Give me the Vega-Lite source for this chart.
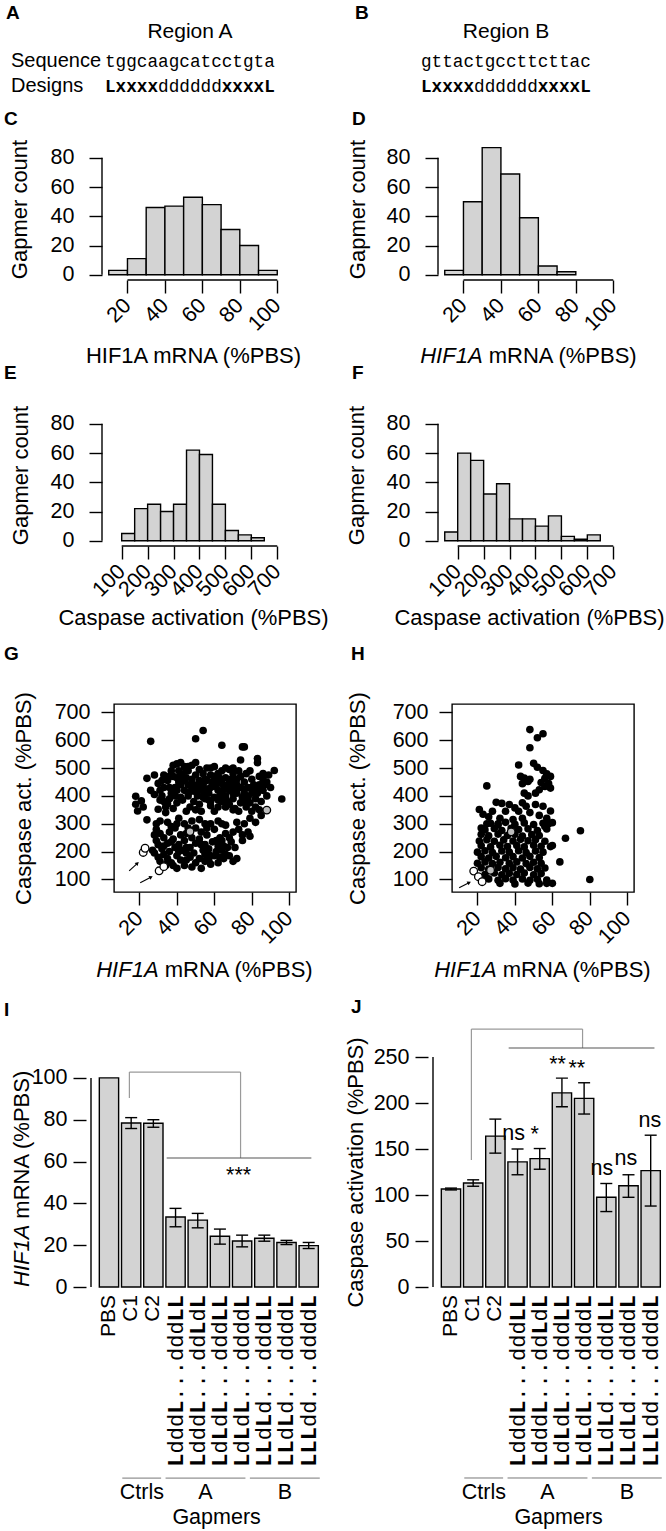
{
"$schema":"https://vega.github.io/schema/vega-lite/v6.json",
"padding":0,
"background":"white",
"config":{
 "font":"Liberation Sans",
 "view":{"stroke":null},
 "axis":{"labelFont":"Liberation Sans","labelFontSize":21.5,"labelColor":"black","titleFont":"Liberation Sans","titleFontSize":22,"titleFontWeight":"normal","titleColor":"black","tickColor":"black","tickWidth":1.4,"tickSize":13,"domain":false,"grid":false,"labelOverlap":false,"labelFlush":false,"labelBound":false,"tickCount":50},
 "title":{"font":"Liberation Sans","fontSize":19,"fontWeight":"bold","color":"black","anchor":"start","frame":"group","baseline":"alphabetic"}
},
"datasets":{
 "head":[
  {"s":"let","c":0,"r":0,"t":"A"},{"s":"let","c":3,"r":0,"t":"B"},
  {"s":"tit","c":2,"r":1,"t":"Region A"},{"s":"tit","c":4,"r":1,"t":"Region B"},
  {"s":"lab","c":1,"r":2,"t":"Sequence"},{"s":"lab","c":1,"r":3,"t":"Designs"},
  {"s":"seq","c":2,"r":2,"t":"tggcaagcatcctgta"},{"s":"seq","c":4,"r":2,"t":"gttactgccttcttac"},
  {"s":"dn","c":2,"r":3,"t":"dddddd"},{"s":"dn","c":4,"r":3,"t":"dddddd"},
  {"s":"db","c":2,"r":3,"t":"Lxxxx\u00a0\u00a0\u00a0\u00a0\u00a0\u00a0xxxxL"},{"s":"db","c":4,"r":3,"t":"Lxxxx\u00a0\u00a0\u00a0\u00a0\u00a0\u00a0xxxxL"}
 ],
 "hc":[{"lo":10,"hi":20,"n":3},{"lo":20,"hi":30,"n":11},{"lo":30,"hi":40,"n":46},{"lo":40,"hi":50,"n":47},{"lo":50,"hi":60,"n":53},{"lo":60,"hi":70,"n":48},{"lo":70,"hi":80,"n":31},{"lo":80,"hi":90,"n":20},{"lo":90,"hi":100,"n":3}],
 "hd":[{"lo":10,"hi":20,"n":3},{"lo":20,"hi":30,"n":50},{"lo":30,"hi":40,"n":87},{"lo":40,"hi":50,"n":69},{"lo":50,"hi":60,"n":39},{"lo":60,"hi":70,"n":6},{"lo":70,"hi":80,"n":2}],
 "he":[{"lo":100,"hi":150,"n":5},{"lo":150,"hi":200,"n":22},{"lo":200,"hi":250,"n":25},{"lo":250,"hi":300,"n":20},{"lo":300,"hi":350,"n":25},{"lo":350,"hi":400,"n":62},{"lo":400,"hi":450,"n":59},{"lo":450,"hi":500,"n":25},{"lo":500,"hi":550,"n":7},{"lo":550,"hi":600,"n":4},{"lo":600,"hi":650,"n":2}],
 "hf":[{"lo":50,"hi":100,"n":6},{"lo":100,"hi":150,"n":60},{"lo":150,"hi":200,"n":55},{"lo":200,"hi":250,"n":32},{"lo":250,"hi":300,"n":39},{"lo":300,"hi":350,"n":15},{"lo":350,"hi":400,"n":15},{"lo":400,"hi":450,"n":10},{"lo":450,"hi":500,"n":17},{"lo":500,"hi":550,"n":3},{"lo":550,"hi":600,"n":1},{"lo":600,"hi":650,"n":4}],
 "g":[
  {"x":18,"y":399},{"x":18,"y":370},{"x":19,"y":346},{"x":24,"y":314},{"x":21,"y":382},{"x":22,"y":360},{"x":24,"y":463},{"x":28,"y":475},{"x":26,"y":596},{"x":30,"y":445},{"x":31,"y":420},{"x":32,"y":400},{"x":33,"y":380},{"x":34,"y":360},{"x":33,"y":430},{"x":35,"y":455},{"x":36,"y":470},{"x":37,"y":490},{"x":38,"y":510},{"x":40,"y":515},{"x":42,"y":520},{"x":44,"y":505},{"x":45,"y":490},{"x":43,"y":470},{"x":41,"y":450},{"x":39,"y":430},{"x":37,"y":410},{"x":36,"y":390},{"x":35,"y":372},{"x":38,"y":355},{"x":40,"y":375},{"x":42,"y":395},{"x":44,"y":420},{"x":46,"y":440},{"x":48,"y":460},{"x":50,"y":475},{"x":52,"y":455},{"x":54,"y":440},{"x":53,"y":420},{"x":51,"y":400},{"x":49,"y":380},{"x":47,"y":360},{"x":45,"y":345},{"x":50,"y":350},{"x":52,"y":370},{"x":55,"y":390},{"x":57,"y":410},{"x":58,"y":430},{"x":56,"y":455},{"x":58,"y":475},{"x":60,"y":470},{"x":62,"y":480},{"x":64,"y":490},{"x":66,"y":500},{"x":68,"y":495},{"x":70,"y":480},{"x":72,"y":460},{"x":70,"y":440},{"x":68,"y":420},{"x":66,"y":400},{"x":64,"y":380},{"x":62,"y":360},{"x":60,"y":345},{"x":58,"y":365},{"x":60,"y":395},{"x":62,"y":420},{"x":64,"y":445},{"x":66,"y":465},{"x":63,"y":462},{"x":74,"y":470},{"x":76,"y":450},{"x":78,"y":430},{"x":80,"y":410},{"x":82,"y":390},{"x":78,"y":395},{"x":76,"y":410},{"x":74,"y":430},{"x":72,"y":410},{"x":70,"y":390},{"x":68,"y":370},{"x":71,"y":355},{"x":74,"y":375},{"x":84,"y":470},{"x":86,"y":460},{"x":89,"y":475},{"x":84,"y":440},{"x":86,"y":420},{"x":88,"y":400},{"x":82,"y":360},{"x":80,"y":345},{"x":84,"y":350},{"x":92,"y":491},{"x":96,"y":389},{"x":74,"y":529},{"x":83,"y":534},{"x":83,"y":519},{"x":75,"y":576},{"x":76,"y":576},{"x":64,"y":582},{"x":50,"y":605},{"x":54,"y":635},{"x":46,"y":490},{"x":48,"y":510},{"x":56,"y":500},{"x":60,"y":505},{"x":40,"y":465},{"x":42,"y":440},{"x":34,"y":340},{"x":30,"y":352},{"x":31,"y":385},{"x":28,"y":405},{"x":26,"y":420},{"x":33,"y":475},{"x":55,"y":460},{"x":57,"y":385},{"x":61,"y":440},{"x":65,"y":425},{"x":67,"y":440},{"x":69,"y":460},{"x":73,"y":490},{"x":77,"y":480},{"x":80,"y":460},{"x":81,"y":440},{"x":87,"y":440},{"x":90,"y":430},{"x":39,"y":400},{"x":43,"y":385},{"x":47,"y":415},{"x":51,"y":430},{"x":55,"y":415},{"x":59,"y":450},{"x":63,"y":400},{"x":67,"y":380},{"x":71,"y":425},{"x":75,"y":395},{"x":79,"y":375},{"x":83,"y":410},{"x":85,"y":380},{"x":73,"y":345},{"x":77,"y":360},{"x":53,"y":345},{"x":49,"y":440},{"x":45,"y":465},{"x":41,"y":490},
  {"x":32,"y":455},{"x":36,"y":430},{"x":40,"y":420},{"x":44,"y":455},{"x":48,"y":425},{"x":52,"y":440},{"x":56,"y":425},{"x":60,"y":435},{"x":64,"y":415},{"x":68,"y":445},{"x":72,"y":440},{"x":76,"y":425},{"x":80,"y":430},{"x":84,"y":420},{"x":88,"y":450},{"x":54,"y":480},{"x":58,"y":500},{"x":62,"y":455},{"x":66,"y":430},{"x":70,"y":410},{"x":46,"y":400},{"x":50,"y":415},{"x":54,"y":395},{"x":58,"y":380},{"x":62,"y":385},{"x":66,"y":360},{"x":70,"y":350},{"x":76,"y":380},{"x":82,"y":425},{"x":38,"y":470},{"x":42,"y":480},{"x":46,"y":505},{"x":50,"y":520},{"x":52,"y":495},{"x":70,"y":500},{"x":79,"y":490},{"x":86,"y":480},
  {"x":31,"y":310},{"x":35,"y":305},{"x":41,"y":320},{"x":44,"y":300},{"x":52,"y":315},{"x":55,"y":300},{"x":62,"y":310},{"x":66,"y":295},{"x":72,"y":305},{"x":76,"y":300},{"x":79,"y":320},{"x":85,"y":330},{"x":82,"y":305},{"x":29,"y":280},{"x":31,"y":265},{"x":36,"y":270},{"x":39,"y":285},{"x":45,"y":265},{"x":50,"y":285},{"x":53,"y":270},{"x":56,"y":260},{"x":60,"y":280},{"x":63,"y":250},{"x":66,"y":265},{"x":70,"y":270},{"x":75,"y":260},{"x":78,"y":270},{"x":29,"y":240},{"x":30,"y":225},{"x":32,"y":210},{"x":35,"y":230},{"x":38,"y":245},{"x":41,"y":225},{"x":44,"y":240},{"x":47,"y":215},{"x":50,"y":230},{"x":52,"y":245},{"x":55,"y":225},{"x":57,"y":210},{"x":59,"y":235},{"x":62,"y":220},{"x":64,"y":240},{"x":67,"y":215},{"x":71,"y":215},{"x":64,"y":205},{"x":28,"y":195},{"x":30,"y":180},{"x":31,"y":165},{"x":33,"y":190},{"x":35,"y":175},{"x":37,"y":160},{"x":40,"y":185},{"x":42,"y":170},{"x":45,"y":195},{"x":47,"y":180},{"x":50,"y":160},{"x":52,"y":175},{"x":55,"y":190},{"x":57,"y":170},{"x":60,"y":185},{"x":62,"y":160},{"x":65,"y":175},{"x":68,"y":185},{"x":70,"y":165},{"x":48,"y":145},{"x":53,"y":140},{"x":44,"y":150},{"x":38,"y":150},{"x":34,"y":150},{"x":58,"y":155},{"x":66,"y":190},{"x":72,"y":175},{"x":36,"y":200},{"x":39,"y":215},{"x":43,"y":205},{"x":27,"y":205},{"x":28,"y":260},{"x":29,"y":300},{"x":48,"y":250},{"x":58,"y":300},{"x":75,"y":240},{"x":79,"y":255},{"x":33,"y":250},{"x":42,"y":260},{"x":46,"y":285},{"x":54,"y":205},{"x":61,"y":200},{"x":69,"y":235},{"x":73,"y":280},{"x":37,"y":290},{"x":40,"y":140},
  {"x":33,"y":220},{"x":37,"y":235},{"x":41,"y":200},{"x":45,"y":215},{"x":49,"y":195},{"x":53,"y":225},{"x":57,"y":190},{"x":61,"y":240},{"x":65,"y":220},{"x":35,"y":160},{"x":45,"y":170},{"x":55,"y":165},{"x":63,"y":180},{"x":40,"y":300},{"x":48,"y":310},{"x":56,"y":285},{"x":64,"y":300},{"x":68,"y":250}
 ],
 "gs":[{"x":47,"y":272,"k":"g"},{"x":88,"y":349,"k":"g"},{"x":22,"y":197,"k":"o"},{"x":23,"y":212,"k":"o"},{"x":30.5,"y":131,"k":"o"},{"x":33,"y":146,"k":"o"}],
 "h":[
  {"x":48,"y":638},{"x":52,"y":609},{"x":55,"y":623},{"x":48,"y":573},{"x":25,"y":436},{"x":75,"y":275},{"x":67,"y":248},{"x":64,"y":163},{"x":80,"y":100},{"x":60,"y":222},{"x":59,"y":218},{"x":57,"y":86},{"x":60,"y":86},
  {"x":50,"y":517},{"x":52,"y":503},{"x":55,"y":491},{"x":57,"y":479},{"x":59,"y":470},{"x":58,"y":444},{"x":56,"y":434},{"x":53,"y":422},{"x":51,"y":410},{"x":54,"y":448},{"x":56,"y":463},{"x":59,"y":428},{"x":43,"y":470},{"x":45,"y":464},{"x":47,"y":452},{"x":44,"y":444},{"x":42,"y":511},{"x":45,"y":410},{"x":44,"y":375},{"x":47,"y":400},{"x":48,"y":460},
  {"x":21,"y":351},{"x":23,"y":334},{"x":26,"y":325},{"x":30,"y":377},{"x":33,"y":373},{"x":37,"y":369},{"x":40,"y":357},{"x":46,"y":363},{"x":51,"y":369},{"x":55,"y":363},{"x":59,"y":346},{"x":60,"y":304},{"x":42,"y":345},{"x":35,"y":345},{"x":28,"y":345},{"x":48,"y":340},{"x":53,"y":330},{"x":57,"y":320},{"x":58,"y":300},{"x":56,"y":290},{"x":44,"y":320},{"x":39,"y":315},{"x":32,"y":320},{"x":25,"y":300},{"x":22,"y":285},{"x":31,"y":300},
  {"x":27,"y":302},{"x":31,"y":296},{"x":35,"y":305},{"x":40,"y":298},{"x":45,"y":303},{"x":50,"y":297},{"x":55,"y":302},
  {"x":24,"y":278},{"x":29,"y":283},{"x":33,"y":276},{"x":38,"y":284},{"x":42,"y":279},{"x":47,"y":282},{"x":52,"y":276},{"x":57,"y":281},
  {"x":22,"y":262},{"x":26,"y":257},{"x":31,"y":263},{"x":36,"y":258},{"x":40,"y":262},{"x":44,"y":256},{"x":49,"y":261},{"x":53,"y":258},
  {"x":21,"y":238},{"x":25,"y":243},{"x":29,"y":237},{"x":34,"y":242},{"x":39,"y":238},{"x":43,"y":244},{"x":47,"y":239},{"x":51,"y":243},{"x":56,"y":237},
  {"x":22,"y":222},{"x":27,"y":217},{"x":32,"y":223},{"x":36,"y":218},{"x":41,"y":222},{"x":45,"y":217},{"x":50,"y":223},{"x":54,"y":219},
  {"x":20,"y":198},{"x":24,"y":203},{"x":28,"y":197},{"x":33,"y":202},{"x":37,"y":198},{"x":42,"y":203},{"x":46,"y":197},{"x":51,"y":202},{"x":55,"y":198},
  {"x":22,"y":182},{"x":26,"y":177},{"x":30,"y":183},{"x":35,"y":178},{"x":39,"y":182},{"x":44,"y":177},{"x":48,"y":183},{"x":53,"y":179},
  {"x":20,"y":158},{"x":24,"y":163},{"x":28,"y":157},{"x":32,"y":162},{"x":37,"y":158},{"x":41,"y":163},{"x":46,"y":157},{"x":50,"y":162},{"x":54,"y":158},
  {"x":22,"y":142},{"x":26,"y":137},{"x":31,"y":143},{"x":35,"y":138},{"x":39,"y":142},{"x":43,"y":137},{"x":48,"y":143},{"x":52,"y":138},{"x":56,"y":141},
  {"x":24,"y":118},{"x":29,"y":123},{"x":33,"y":117},{"x":37,"y":122},{"x":41,"y":118},{"x":45,"y":123},{"x":50,"y":117},{"x":54,"y":121},
  {"x":26,"y":102},{"x":31,"y":97},{"x":35,"y":103},{"x":39,"y":98},{"x":44,"y":102},{"x":48,"y":97},{"x":52,"y":101},{"x":57,"y":98},
  {"x":32,"y":86},{"x":40,"y":84},{"x":47,"y":87},{"x":53,"y":85}
 ],
 "hs":[{"x":38,"y":271,"k":"g"},{"x":27,"y":133,"k":"g"},{"x":18,"y":130,"k":"o"},{"x":20.5,"y":110,"k":"o"},{"x":22.5,"y":92,"k":"o"}],
 "bars":[
  {"idx":1,"name":"PBS","ln":"","lb":"","mrna":100,"mlo":100,"mhi":100,"casp":106.5,"clo":105.5,"chi":107.5},
  {"idx":2,"name":"C1","ln":"","lb":"","mrna":78.4,"mlo":75.8,"mhi":81,"casp":113,"clo":109.5,"chi":116.5},
  {"idx":3,"name":"C2","ln":"","lb":"","mrna":78.3,"mlo":76.4,"mhi":80,"casp":164,"clo":145.5,"chi":182.5},
  {"idx":4,"name":"LdddL...dddLL","ln":"ddd\u00a0...ddd","lb":"L\u00a0\u00a0\u00a0L\u00a0\u00a0\u00a0\u00a0\u00a0\u00a0LL","mrna":33.5,"mlo":28.8,"mhi":37.6,"casp":136,"clo":122,"chi":150},
  {"idx":5,"name":"LdddL...ddLdL","ln":"ddd\u00a0...dd\u00a0d","lb":"L\u00a0\u00a0\u00a0L\u00a0\u00a0\u00a0\u00a0\u00a0L\u00a0L","mrna":32,"mlo":28.3,"mhi":35.2,"casp":139.5,"clo":128,"chi":150.5},
  {"idx":6,"name":"LdLdL...dddLL","ln":"d\u00a0d\u00a0...ddd","lb":"L\u00a0L\u00a0L\u00a0\u00a0\u00a0\u00a0\u00a0\u00a0LL","mrna":24.3,"mlo":20.5,"mhi":27.7,"casp":211,"clo":196,"chi":227},
  {"idx":7,"name":"LdLdL...ddddL","ln":"d\u00a0d\u00a0...dddd","lb":"L\u00a0L\u00a0L\u00a0\u00a0\u00a0\u00a0\u00a0\u00a0\u00a0L","mrna":22,"mlo":19.2,"mhi":24.8,"casp":205,"clo":188,"chi":222},
  {"idx":8,"name":"LLdLd...dddLL","ln":"d\u00a0d...ddd","lb":"LL\u00a0L\u00a0\u00a0\u00a0\u00a0\u00a0\u00a0\u00a0LL","mrna":23.3,"mlo":21.9,"mhi":24.8,"casp":97.5,"clo":82,"chi":112.5},
  {"idx":9,"name":"LLdLd...ddddL","ln":"d\u00a0d...dddd","lb":"LL\u00a0L\u00a0\u00a0\u00a0\u00a0\u00a0\u00a0\u00a0\u00a0L","mrna":21.3,"mlo":20.3,"mhi":22.3,"casp":110,"clo":97.5,"chi":122},
  {"idx":10,"name":"LLLdd...ddddL","ln":"dd...dddd","lb":"LLL\u00a0\u00a0\u00a0\u00a0\u00a0\u00a0\u00a0\u00a0\u00a0L","mrna":19.8,"mlo":18.4,"mhi":21.3,"casp":126.5,"clo":88,"chi":165}
 ],
 "groups":[{"a":1.6,"b":3.35,"c":2.48,"t":"Ctrls"},{"a":3.55,"b":7.15,"c":5.35,"t":"A"},{"a":7.35,"b":10.5,"c":8.93,"t":"B"}],
 "brI":[{"x":1.92,"x2":1.92,"y":90.4,"y2":102.8},{"x":1.92,"x2":6.93,"y":102.8,"y2":102.8},{"x":6.93,"x2":6.93,"y":102.8,"y2":61.7}],
 "brJ":[{"x":1.92,"x2":1.92,"y":138,"y2":280.4},{"x":1.92,"x2":6.93,"y":280.4,"y2":280.4},{"x":6.93,"x2":6.93,"y":280.4,"y2":259.8}],
 "sigJ":[{"x":3.82,"y":160,"t":"ns"},{"x":4.77,"y":159,"t":"*"},{"x":5.8,"y":235,"t":"**"},{"x":6.67,"y":230,"t":"**"},{"x":7.8,"y":122,"t":"ns"},{"x":8.88,"y":132.6,"t":"ns"},{"x":9.96,"y":174,"t":"ns"}]
},
"spacing":0,
"bounds":"flush",
"vconcat":[
 {
  "width":666,"height":100,
  "data":{"name":"head"},
  "encoding":{
   "x":{"field":"c","type":"quantitative","scale":{"domain":[0,1,2,3,4],"range":[3,8,102,352,418],"nice":false,"zero":false},"axis":null},
   "y":{"field":"r","type":"quantitative","scale":{"domain":[0,1,2,3],"range":[19,38,67,92],"nice":false,"zero":false},"axis":null},
   "text":{"field":"t"}
  },
  "layer":[
   {"transform":[{"filter":"datum.s == 'let'"}],"mark":{"type":"text","align":"left","baseline":"alphabetic","fontSize":19,"fontWeight":"bold","color":"black"}},
   {"transform":[{"filter":"datum.s == 'tit'"}],"mark":{"type":"text","align":"center","baseline":"alphabetic","dx":85,"fontSize":21,"color":"black"}},
   {"transform":[{"filter":"datum.s == 'lab'"}],"mark":{"type":"text","align":"left","baseline":"alphabetic","fontSize":20,"color":"black"}},
   {"transform":[{"filter":"datum.s == 'seq'"}],"mark":{"type":"text","align":"left","baseline":"alphabetic","font":"Liberation Mono","fontSize":17.7,"color":"black"}},
   {"transform":[{"filter":"datum.s == 'dn'"}],"mark":{"type":"text","align":"left","baseline":"alphabetic","dx":53.1,"font":"Liberation Mono","fontSize":17.7,"color":"black"}},
   {"transform":[{"filter":"datum.s == 'db'"}],"mark":{"type":"text","align":"left","baseline":"alphabetic","font":"Liberation Mono","fontSize":17.7,"fontWeight":"bold","color":"black"}}
  ]
 },
 {"width":1,"height":38,"data":{"values":[{}]},"mark":{"type":"point","opacity":0}},
 {
  "spacing":0,"bounds":"flush",
  "hconcat":[
   {"width":99,"height":1,"data":{"values":[{}]},"mark":{"type":"point","opacity":0}},
   {
    "width":182,"height":142,
    "title":{"text":"C","dx":-98,"offset":9},
    "data":{"name":"hc"},
    "layer":[
     {"mark":{"type":"bar","fill":"#d3d3d3","stroke":"black","strokeWidth":1.4},
      "encoding":{
       "x":{"field":"lo","type":"quantitative","scale":{"domain":[6.4,103.6],"nice":false,"zero":false},"axis":{"values":[20,40,60,80,100],"tickCount":50,"labelOverlap":false,"labelAngle":-45,"labelAlign":"right","labelBaseline":"middle","labelPadding":9,"title":"HIF1A mRNA (%PBS)","titleY":82.5,"titleBaseline":"alphabetic"}},
       "x2":{"field":"hi"},
       "y":{"field":"n","type":"quantitative","scale":{"domain":[-3.6,93.6],"nice":false,"zero":false},"axis":{"values":[0,20,40,60,80],"tickCount":50,"labelOverlap":false,"labelPadding":15,"title":"Gapmer count","titleX":-76,"titleBaseline":"alphabetic"}},
       "y2":{"datum":0}}},
     {"data":{"values":[{}]},"mark":{"type":"rule","color":"black","strokeWidth":1.4},"encoding":{"x":{"datum":20},"x2":{"datum":100},"y":{"datum":-3.6}}},
     {"data":{"values":[{}]},"mark":{"type":"rule","color":"black","strokeWidth":1.4},"encoding":{"x":{"datum":6.4},"y":{"datum":0},"y2":{"datum":80}}}
    ]
   },
   {"width":154,"height":1,"data":{"values":[{}]},"mark":{"type":"point","opacity":0}},
   {
    "width":182,"height":142,
    "title":{"text":"D","dx":-86,"offset":9},
    "data":{"name":"hd"},
    "layer":[
     {"mark":{"type":"bar","fill":"#d3d3d3","stroke":"black","strokeWidth":1.4},
      "encoding":{
       "x":{"field":"lo","type":"quantitative","scale":{"domain":[6.4,103.6],"nice":false,"zero":false},"axis":{"values":[20,40,60,80,100],"tickCount":50,"labelOverlap":false,"labelAngle":-45,"labelAlign":"right","labelBaseline":"middle","labelPadding":9,"title":null}},
       "x2":{"field":"hi"},
       "y":{"field":"n","type":"quantitative","scale":{"domain":[-3.6,93.6],"nice":false,"zero":false},"axis":{"values":[0,20,40,60,80],"tickCount":50,"labelOverlap":false,"labelPadding":15,"title":"Gapmer count","titleX":-74,"titleBaseline":"alphabetic"}},
       "y2":{"datum":0}}},
     {"data":{"values":[{}]},"mark":{"type":"rule","color":"black","strokeWidth":1.4},"encoding":{"x":{"datum":20},"x2":{"datum":100},"y":{"datum":-3.6}}},
     {"data":{"values":[{}]},"mark":{"type":"rule","color":"black","strokeWidth":1.4},"encoding":{"x":{"datum":6.4},"y":{"datum":0},"y2":{"datum":80}}},
     {"data":{"values":[{}]},"mark":{"type":"text","align":"right","baseline":"alphabetic","fontSize":22,"fontStyle":"italic","color":"black"},"encoding":{"x":{"datum":30.2},"y":{"datum":-60.1},"text":{"value":"HIF1A"}}},
     {"data":{"values":[{}]},"mark":{"type":"text","align":"left","baseline":"alphabetic","fontSize":22,"color":"black"},"encoding":{"x":{"datum":33.5},"y":{"datum":-60.1},"text":{"value":"mRNA (%PBS)"}}}
    ]
   }
  ]
 },
 {"width":1,"height":266,"data":{"values":[{}]},"mark":{"type":"point","opacity":0}},
 {
  "spacing":0,"bounds":"flush",
  "hconcat":[
   {"width":99,"height":1,"data":{"values":[{}]},"mark":{"type":"point","opacity":0}},
   {
    "width":182,"height":142,
    "title":{"text":"E","dx":-98,"offset":21},
    "data":{"name":"he"},
    "layer":[
     {"mark":{"type":"bar","fill":"#d3d3d3","stroke":"black","strokeWidth":1.4},
      "encoding":{
       "x":{"field":"lo","type":"quantitative","scale":{"domain":[24,726],"nice":false,"zero":false},"axis":{"values":[100,200,300,400,500,600,700],"tickCount":50,"labelOverlap":false,"labelAngle":-45,"labelAlign":"right","labelBaseline":"middle","labelPadding":9,"title":"Caspase activation (%PBS)","titleY":78,"titleBaseline":"alphabetic"}},
       "x2":{"field":"hi"},
       "y":{"field":"n","type":"quantitative","scale":{"domain":[-3.6,93.6],"nice":false,"zero":false},"axis":{"values":[0,20,40,60,80],"tickCount":50,"labelOverlap":false,"labelPadding":15,"title":"Gapmer count","titleX":-75,"titleBaseline":"alphabetic"}},
       "y2":{"datum":0}}},
     {"data":{"values":[{}]},"mark":{"type":"rule","color":"black","strokeWidth":1.4},"encoding":{"x":{"datum":100},"x2":{"datum":700},"y":{"datum":-3.6}}},
     {"data":{"values":[{}]},"mark":{"type":"rule","color":"black","strokeWidth":1.4},"encoding":{"x":{"datum":24},"y":{"datum":0},"y2":{"datum":80}}}
    ]
   },
   {"width":154,"height":1,"data":{"values":[{}]},"mark":{"type":"point","opacity":0}},
   {
    "width":182,"height":142,
    "title":{"text":"F","dx":-86,"offset":21},
    "data":{"name":"hf"},
    "layer":[
     {"mark":{"type":"bar","fill":"#d3d3d3","stroke":"black","strokeWidth":1.4},
      "encoding":{
       "x":{"field":"lo","type":"quantitative","scale":{"domain":[24,726],"nice":false,"zero":false},"axis":{"values":[100,200,300,400,500,600,700],"tickCount":50,"labelOverlap":false,"labelAngle":-45,"labelAlign":"right","labelBaseline":"middle","labelPadding":9,"title":"Caspase activation (%PBS)","titleY":78,"titleBaseline":"alphabetic"}},
       "x2":{"field":"hi"},
       "y":{"field":"n","type":"quantitative","scale":{"domain":[-3.6,93.6],"nice":false,"zero":false},"axis":{"values":[0,20,40,60,80],"tickCount":50,"labelOverlap":false,"labelPadding":15,"title":"Gapmer count","titleX":-75,"titleBaseline":"alphabetic"}},
       "y2":{"datum":0}}},
     {"data":{"values":[{}]},"mark":{"type":"rule","color":"black","strokeWidth":1.4},"encoding":{"x":{"datum":100},"x2":{"datum":700},"y":{"datum":-3.6}}},
     {"data":{"values":[{}]},"mark":{"type":"rule","color":"black","strokeWidth":1.4},"encoding":{"x":{"datum":24},"y":{"datum":0},"y2":{"datum":80}}}
    ]
   }
  ]
 },
 {"width":1,"height":300,"data":{"values":[{}]},"mark":{"type":"point","opacity":0}},
 {
  "spacing":0,"bounds":"flush",
  "hconcat":[
   {"width":111,"height":1,"data":{"values":[{}]},"mark":{"type":"point","opacity":0}},
   {
    "width":182,"height":188,
    "view":{"stroke":"black","strokeWidth":1.4},
    "title":{"text":"G","dx":-110,"offset":28},
    "layer":[
     {"data":{"name":"g"},"mark":{"type":"point","filled":true,"shape":"circle","size":58,"color":"black","opacity":1},
      "encoding":{
       "x":{"field":"x","type":"quantitative","scale":{"domain":[6.4,103.6],"nice":false,"zero":false},"axis":{"values":[20,40,60,80,100],"tickCount":50,"labelOverlap":false,"labelAngle":-45,"labelAlign":"right","labelBaseline":"middle","labelPadding":10,"title":null}},
       "y":{"field":"y","type":"quantitative","scale":{"domain":[55,730],"nice":false,"zero":false},"axis":{"values":[100,200,300,400,500,600,700],"tickCount":50,"labelOverlap":false,"labelPadding":11,"title":"Caspase act. (%PBS)","titleX":-84,"titleBaseline":"alphabetic"}}}},
     {"data":{"name":"gs"},"mark":{"type":"point","filled":true,"shape":"circle","size":58,"stroke":"black","strokeWidth":1.3,"opacity":1},
      "encoding":{"x":{"field":"x","type":"quantitative"},"y":{"field":"y","type":"quantitative"},
       "fill":{"field":"k","type":"nominal","scale":{"domain":["g","o"],"range":["#bdbdbd","white"]},"legend":null}}},
     {"data":{"values":[{}]},"mark":{"type":"rule","color":"black","strokeWidth":1.1},"encoding":{"x":{"datum":14.5},"y":{"datum":130.7},"x2":{"datum":18.6},"y2":{"datum":156}}},
     {"data":{"values":[{}]},"mark":{"type":"point","shape":"triangle-up","filled":true,"size":18,"angle":46,"color":"black","opacity":1},"encoding":{"x":{"datum":18.9},"y":{"datum":158}}},
     {"data":{"values":[{}]},"mark":{"type":"rule","color":"black","strokeWidth":1.1},"encoding":{"x":{"datum":20.4},"y":{"datum":88},"x2":{"datum":25.8},"y2":{"datum":107}}},
     {"data":{"values":[{}]},"mark":{"type":"point","shape":"triangle-up","filled":true,"size":18,"angle":62,"color":"black","opacity":1},"encoding":{"x":{"datum":26.2},"y":{"datum":108.5}}},
     {"data":{"values":[{}]},"mark":{"type":"text","align":"right","baseline":"alphabetic","fontSize":22,"fontStyle":"italic","color":"black"},"encoding":{"x":{"datum":30.2},"y":{"datum":-250.2},"text":{"value":"HIF1A"}}},
     {"data":{"values":[{}]},"mark":{"type":"text","align":"left","baseline":"alphabetic","fontSize":22,"color":"black"},"encoding":{"x":{"datum":33.5},"y":{"datum":-250.2},"text":{"value":"mRNA (%PBS)"}}}
    ]
   },
   {"width":156,"height":1,"data":{"values":[{}]},"mark":{"type":"point","opacity":0}},
   {
    "width":182,"height":188,
    "view":{"stroke":"black","strokeWidth":1.4},
    "title":{"text":"H","dx":-101,"offset":28},
    "layer":[
     {"data":{"name":"h"},"mark":{"type":"point","filled":true,"shape":"circle","size":58,"color":"black","opacity":1},
      "encoding":{
       "x":{"field":"x","type":"quantitative","scale":{"domain":[6.4,103.6],"nice":false,"zero":false},"axis":{"values":[20,40,60,80,100],"tickCount":50,"labelOverlap":false,"labelAngle":-45,"labelAlign":"right","labelBaseline":"middle","labelPadding":10,"title":null}},
       "y":{"field":"y","type":"quantitative","scale":{"domain":[55,730],"nice":false,"zero":false},"axis":{"values":[100,200,300,400,500,600,700],"tickCount":50,"labelOverlap":false,"labelPadding":11,"title":"Caspase act. (%PBS)","titleX":-88,"titleBaseline":"alphabetic"}}}},
     {"data":{"name":"hs"},"mark":{"type":"point","filled":true,"shape":"circle","size":58,"stroke":"black","strokeWidth":1.3,"opacity":1},
      "encoding":{"x":{"field":"x","type":"quantitative"},"y":{"field":"y","type":"quantitative"},
       "fill":{"field":"k","type":"nominal","scale":{"domain":["g","o"],"range":["#bdbdbd","white"]},"legend":null}}},
     {"data":{"values":[{}]},"mark":{"type":"rule","color":"black","strokeWidth":1.1},"encoding":{"x":{"datum":10.2},"y":{"datum":70.5},"x2":{"datum":15.2},"y2":{"datum":87.5}}},
     {"data":{"values":[{}]},"mark":{"type":"point","shape":"triangle-up","filled":true,"size":18,"angle":63,"color":"black","opacity":1},"encoding":{"x":{"datum":15.6},"y":{"datum":89}}},
     {"data":{"values":[{}]},"mark":{"type":"text","align":"right","baseline":"alphabetic","fontSize":22,"fontStyle":"italic","color":"black"},"encoding":{"x":{"datum":30.2},"y":{"datum":-250.2},"text":{"value":"HIF1A"}}},
     {"data":{"values":[{}]},"mark":{"type":"text","align":"left","baseline":"alphabetic","fontSize":22,"color":"black"},"encoding":{"x":{"datum":33.5},"y":{"datum":-250.2},"text":{"value":"mRNA (%PBS)"}}}
    ]
   }
  ]
 },
 {"width":1,"height":353,"data":{"values":[{}]},"mark":{"type":"point","opacity":0}},
 {
  "spacing":0,"bounds":"flush",
  "hconcat":[
   {"width":83,"height":1,"data":{"values":[{}]},"mark":{"type":"point","opacity":0}},
   {
    "width":241,"height":230,
    "title":{"text":"I","dx":-82,"offset":37},
    "layer":[
     {"data":{"name":"bars"},"mark":{"type":"bar","orient":"vertical","fill":"#d3d3d3","stroke":"black","strokeWidth":1.4,"width":19.3},
      "encoding":{
       "x":{"field":"idx","type":"quantitative","scale":{"domain":[0.19,10.6],"nice":false,"zero":false},"axis":null},
       "y":{"field":"mrna","type":"quantitative","scale":{"domain":[0,110],"nice":false,"zero":false},"axis":{"values":[0,20,40,60,80,100],"tickCount":50,"labelOverlap":false,"labelPadding":6,"title":null}},
       "y2":{"datum":0}}},
     {"data":{"name":"bars"},"transform":[{"filter":"datum.idx > 1"}],"mark":{"type":"rule","color":"black","strokeWidth":1.4},
      "encoding":{"x":{"field":"idx","type":"quantitative"},"y":{"field":"mlo","type":"quantitative"},"y2":{"field":"mhi"}}},
     {"data":{"name":"bars"},"transform":[{"filter":"datum.idx > 1"}],"mark":{"type":"tick","orient":"horizontal","color":"black","size":12,"thickness":1.4,"opacity":1},
      "encoding":{"x":{"field":"idx","type":"quantitative"},"y":{"field":"mlo","type":"quantitative"}}},
     {"data":{"name":"bars"},"transform":[{"filter":"datum.idx > 1"}],"mark":{"type":"tick","orient":"horizontal","color":"black","size":12,"thickness":1.4,"opacity":1},
      "encoding":{"x":{"field":"idx","type":"quantitative"},"y":{"field":"mhi","type":"quantitative"}}},
     {"data":{"values":[{}]},"mark":{"type":"rule","color":"black","strokeWidth":1.4},"encoding":{"x":{"datum":0.19},"y":{"datum":0},"y2":{"datum":100}}},
     {"data":{"name":"brI"},"mark":{"type":"rule","color":"#9a9a9a","strokeWidth":1.2},
      "encoding":{"x":{"field":"x","type":"quantitative"},"x2":{"field":"x2"},"y":{"field":"y","type":"quantitative"},"y2":{"field":"y2"}}},
     {"data":{"values":[{}]},"mark":{"type":"rule","color":"#555555","strokeWidth":1.1},"encoding":{"x":{"datum":3.6},"x2":{"datum":10.12},"y":{"datum":61.7}}},
     {"data":{"values":[{}]},"mark":{"type":"text","align":"center","baseline":"alphabetic","fontSize":21.5,"color":"black"},"encoding":{"x":{"datum":6.84},"y":{"datum":50.2},"text":{"value":"***"}}},
     {"data":{"name":"bars"},"transform":[{"filter":"datum.idx <= 3"}],"mark":{"type":"text","angle":270,"align":"right","baseline":"middle","fontSize":21,"color":"black"},
      "encoding":{"x":{"field":"idx","type":"quantitative"},"y":{"datum":-3.83},"text":{"field":"name"}}},
     {"data":{"name":"bars"},"transform":[{"filter":"datum.idx == 4 || datum.idx == 6 || datum.idx == 8"}],"mark":{"type":"text","angle":270,"align":"right","baseline":"middle","dx":-26.4,"font":"Liberation Mono","fontSize":22,"color":"black"},
      "encoding":{"x":{"field":"idx","type":"quantitative"},"y":{"datum":-3.83},"text":{"field":"ln"}}},
     {"data":{"name":"bars"},"transform":[{"filter":"datum.idx == 5 || datum.idx == 7 || datum.idx >= 9"}],"mark":{"type":"text","angle":270,"align":"right","baseline":"middle","dx":-13.2,"font":"Liberation Mono","fontSize":22,"color":"black"},
      "encoding":{"x":{"field":"idx","type":"quantitative"},"y":{"datum":-3.83},"text":{"field":"ln"}}},
     {"data":{"name":"bars"},"transform":[{"filter":"datum.idx >= 4"}],"mark":{"type":"text","angle":270,"align":"right","baseline":"middle","font":"Liberation Mono","fontSize":22,"fontWeight":"bold","color":"black"},
      "encoding":{"x":{"field":"idx","type":"quantitative"},"y":{"datum":-3.83},"text":{"field":"lb"}}},
     {"data":{"name":"groups"},"mark":{"type":"rule","color":"#777777","strokeWidth":1},"encoding":{"x":{"field":"a","type":"quantitative"},"x2":{"field":"b"},"y":{"datum":-91.4}}},
     {"data":{"name":"groups"},"mark":{"type":"text","align":"center","baseline":"alphabetic","fontSize":21.5,"color":"black"},"encoding":{"x":{"field":"c","type":"quantitative"},"y":{"datum":-101.4},"text":{"field":"t"}}},
     {"data":{"values":[{}]},"mark":{"type":"text","align":"center","baseline":"alphabetic","fontSize":21.5,"color":"black"},"encoding":{"x":{"datum":5.85},"y":{"datum":-113.4},"text":{"value":"Gapmers"}}},
     {"data":{"values":[{}]},"mark":{"type":"text","angle":270,"align":"left","baseline":"alphabetic","fontSize":22,"fontStyle":"italic","color":"black"},"encoding":{"x":{"datum":-2.62},"y":{"datum":0},"text":{"value":"HIF1A"}}},
     {"data":{"values":[{}]},"mark":{"type":"text","angle":270,"align":"left","baseline":"alphabetic","fontSize":22,"color":"black"},"encoding":{"x":{"datum":-2.62},"y":{"datum":32.7},"text":{"value":"mRNA (%PBS)"}}}
    ]
   },
   {"width":101,"height":1,"data":{"values":[{}]},"mark":{"type":"point","opacity":0}},
   {
    "width":241,"height":230,
    "title":{"text":"J","dx":-77,"offset":11},
    "layer":[
     {"data":{"name":"bars"},"mark":{"type":"bar","orient":"vertical","fill":"#d3d3d3","stroke":"black","strokeWidth":1.4,"width":19.3},
      "encoding":{
       "x":{"field":"idx","type":"quantitative","scale":{"domain":[0.19,10.6],"nice":false,"zero":false},"axis":null},
       "y":{"field":"casp","type":"quantitative","scale":{"domain":[0,250],"nice":false,"zero":false},"axis":{"values":[0,50,100,150,200,250],"tickCount":50,"labelOverlap":false,"labelPadding":6,"title":"Caspase activation (%PBS)","titleX":-66,"titleBaseline":"alphabetic"}},
       "y2":{"datum":0}}},
     {"data":{"name":"bars"},"mark":{"type":"rule","color":"black","strokeWidth":1.4},
      "encoding":{"x":{"field":"idx","type":"quantitative"},"y":{"field":"clo","type":"quantitative"},"y2":{"field":"chi"}}},
     {"data":{"name":"bars"},"mark":{"type":"tick","orient":"horizontal","color":"black","size":12,"thickness":1.4,"opacity":1},
      "encoding":{"x":{"field":"idx","type":"quantitative"},"y":{"field":"clo","type":"quantitative"}}},
     {"data":{"name":"bars"},"mark":{"type":"tick","orient":"horizontal","color":"black","size":12,"thickness":1.4,"opacity":1},
      "encoding":{"x":{"field":"idx","type":"quantitative"},"y":{"field":"chi","type":"quantitative"}}},
     {"data":{"values":[{}]},"mark":{"type":"rule","color":"black","strokeWidth":1.4},"encoding":{"x":{"datum":0.19},"y":{"datum":0},"y2":{"datum":250}}},
     {"data":{"name":"brJ"},"mark":{"type":"rule","color":"#9a9a9a","strokeWidth":1.2},
      "encoding":{"x":{"field":"x","type":"quantitative"},"x2":{"field":"x2"},"y":{"field":"y","type":"quantitative"},"y2":{"field":"y2"}}},
     {"data":{"values":[{}]},"mark":{"type":"rule","color":"#555555","strokeWidth":1.1},"encoding":{"x":{"datum":3.6},"x2":{"datum":10.17},"y":{"datum":259.8}}},
     {"data":{"name":"sigJ"},"mark":{"type":"text","align":"center","baseline":"alphabetic","fontSize":21.5,"color":"black"},
      "encoding":{"x":{"field":"x","type":"quantitative"},"y":{"field":"y","type":"quantitative"},"text":{"field":"t"}}},
     {"data":{"name":"bars"},"transform":[{"filter":"datum.idx <= 3"}],"mark":{"type":"text","angle":270,"align":"right","baseline":"middle","fontSize":21,"color":"black"},
      "encoding":{"x":{"field":"idx","type":"quantitative"},"y":{"datum":-8.7},"text":{"field":"name"}}},
     {"data":{"name":"bars"},"transform":[{"filter":"datum.idx == 4 || datum.idx == 6 || datum.idx == 8"}],"mark":{"type":"text","angle":270,"align":"right","baseline":"middle","dx":-26.4,"font":"Liberation Mono","fontSize":22,"color":"black"},
      "encoding":{"x":{"field":"idx","type":"quantitative"},"y":{"datum":-8.7},"text":{"field":"ln"}}},
     {"data":{"name":"bars"},"transform":[{"filter":"datum.idx == 5 || datum.idx == 7 || datum.idx >= 9"}],"mark":{"type":"text","angle":270,"align":"right","baseline":"middle","dx":-13.2,"font":"Liberation Mono","fontSize":22,"color":"black"},
      "encoding":{"x":{"field":"idx","type":"quantitative"},"y":{"datum":-8.7},"text":{"field":"ln"}}},
     {"data":{"name":"bars"},"transform":[{"filter":"datum.idx >= 4"}],"mark":{"type":"text","angle":270,"align":"right","baseline":"middle","font":"Liberation Mono","fontSize":22,"fontWeight":"bold","color":"black"},
      "encoding":{"x":{"field":"idx","type":"quantitative"},"y":{"datum":-8.7},"text":{"field":"lb"}}},
     {"data":{"name":"groups"},"mark":{"type":"rule","color":"#777777","strokeWidth":1},"encoding":{"x":{"field":"a","type":"quantitative"},"x2":{"field":"b"},"y":{"datum":-207.6}}},
     {"data":{"name":"groups"},"mark":{"type":"text","align":"center","baseline":"alphabetic","fontSize":21.5,"color":"black"},"encoding":{"x":{"field":"c","type":"quantitative"},"y":{"datum":-230.4},"text":{"field":"t"}}},
     {"data":{"values":[{}]},"mark":{"type":"text","align":"center","baseline":"alphabetic","fontSize":21.5,"color":"black"},"encoding":{"x":{"datum":5.85},"y":{"datum":-257.6},"text":{"value":"Gapmers"}}}
    ]
   }
  ]
 }
]
}
